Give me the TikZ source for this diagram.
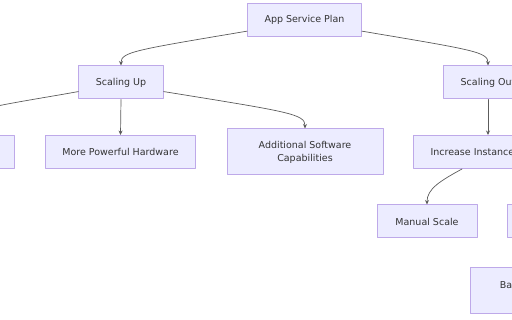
\documentclass[tikz,border=0pt]{standalone}
\usepackage{fontspec}
\setmainfont{DejaVu Sans}
\usetikzlibrary{arrows.meta}
\definecolor{boxfill}{HTML}{ECECFF}
\definecolor{boxline}{HTML}{9370DB}
\definecolor{ink}{HTML}{333333}

\begin{document}
\begin{tikzpicture}[
    x=1pt,y=-1pt,
    >={Stealth[length=4.5pt,width=4pt]},
    line cap=round,
    line join=round,
    box/.style={draw=boxline!60,fill=boxfill,line width=1,
      text=ink,align=center,minimum height=33pt,
      inner xsep=17pt,font=\fontsize{9.5}{13}\selectfont},
    link/.style={->,draw=ink!80,line width=0.7},
]
\useasboundingbox (0,0) rectangle (512,320);
\clip (0,0) rectangle (512,320);
% nodes
\node[box] (plan) at (304.5,20) {App Service Plan};
\node[box] (up) at (121,82.5) {Scaling Up};
\node[box] (out) at (488,82.5) {Scaling Out};
\node[box,minimum width=148pt] (bigger) at (-60,152) {};
\node[box] (hardware) at (120.5,152) {More Powerful Hardware};
\node[box,minimum height=46pt,minimum width=156pt] (software) at (305,152) {Additional Software\\Capabilities};
\node[box] (instances) at (488,152) {Increase Instance Count};
\node[box,minimum width=100pt] (manual) at (427,221.5) {Manual Scale};
\node[box,minimum width=82pt] (auto) at (548,221.5) {};
\node[box,minimum height=46pt,minimum width=154pt] (rules) at (547,291) {Based on Metrics or\\Schedule};
% edges
\draw[link] (plan.191) .. controls (135,50) and (121,52) .. (up.north);
\draw[link] (plan.349) .. controls (474,50) and (488,52) .. (out.north);
\draw[link] (up.192) .. controls (10,104) and (-60,112) .. (bigger.north);
\draw[link] (up.south) -- (hardware.north);
\draw[link] (up.348) .. controls (290,112) and (305,114) .. (software.north);
\draw[link] (out.south) -- (instances.north);
\draw[link] ([xshift=-26pt]instances.south) .. controls (440,181) and (427,189) .. (manual.north);
\end{tikzpicture}
\end{document}
